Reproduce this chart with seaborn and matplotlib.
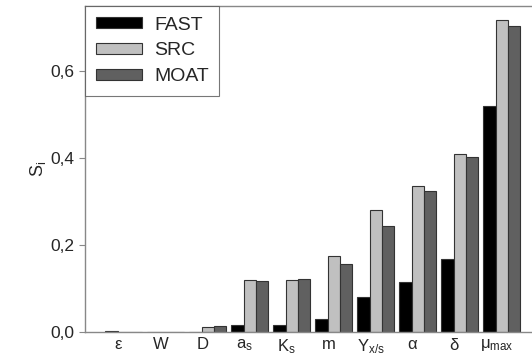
import matplotlib
matplotlib.use("Agg")
import matplotlib.pyplot as plt
import seaborn as sns
import pandas as pd
from matplotlib.ticker import FuncFormatter

categories = ["ε", "W", "D", "a_s", "K_s", "m", "Y_x/s", "α", "δ", "μ_max"]
tick_labels = [r"$\varepsilon$", "W", "D", r"a$_\mathregular{s}$", r"K$_\mathregular{s}$", "m",
               r"Y$_\mathregular{x/s}$", r"$\alpha$", r"$\delta$", r"$\mu_\mathregular{max}$"]
fast = [0.002, 0.0, 0.0, 0.015, 0.015, 0.030, 0.080, 0.114, 0.167, 0.520]
src = [0.0, 0.0, 0.012, 0.120, 0.120, 0.175, 0.281, 0.337, 0.410, 0.718]
moat = [0.0, 0.0, 0.014, 0.118, 0.123, 0.157, 0.245, 0.325, 0.403, 0.705]

df = pd.DataFrame({
    "param": categories * 3,
    "value": fast + src + moat,
    "method": ["FAST"] * 10 + ["SRC"] * 10 + ["MOAT"] * 10,
})

sns.set_style("white")
plt.rcParams["font.family"] = ["Liberation Sans", "DejaVu Sans"]
plt.rcParams["mathtext.fontset"] = "custom"
plt.rcParams["mathtext.rm"] = "Liberation Sans"
plt.rcParams["mathtext.it"] = "Liberation Sans"

fig = plt.figure(figsize=(5.32, 3.55), dpi=100)
ax = fig.add_axes([85 / 532, 23 / 355, 1 - 85 / 532 + 0.01, 326 / 355])
palette = {"FAST": "#000000", "SRC": "#c0c0c0", "MOAT": "#606060"}
sns.barplot(data=df, x="param", y="value", hue="method", palette=palette,
            order=categories, hue_order=["FAST", "SRC", "MOAT"],
            width=0.87, edgecolor="#333333", linewidth=0.8, saturation=1, ax=ax)

ax.set_ylim(0, 0.75)
ax.set_xlim(-0.92, 9.85)
ax.set_yticks([0, 0.2, 0.4, 0.6])
ax.yaxis.set_major_formatter(FuncFormatter(lambda v, p: f"{v:.1f}".replace(".", ",")))
ax.set_xticks([i - 0.12 for i in range(len(categories))])
ax.set_xticklabels(tick_labels)
ax.tick_params(axis="y", left=True, length=4, width=0.8, color="#888888", labelsize=12.5, pad=4)
ax.tick_params(axis="x", bottom=False, labelsize=12, pad=0)
ax.set_xlabel("")
ax.set_ylabel(r"S$_\mathregular{i}$", fontsize=13, labelpad=1)
for s in ["left", "top", "bottom"]:
    ax.spines[s].set_color("#888888")
    ax.spines[s].set_linewidth(1.0)
ax.spines["right"].set_visible(False)

leg = ax.legend(loc="upper left", bbox_to_anchor=(0, 1), frameon=True, fancybox=False,
                fontsize=14, handlelength=2.4, handleheight=0.5, borderpad=0.55,
                labelspacing=0.45, handletextpad=0.6, borderaxespad=0)
leg.get_frame().set_edgecolor("#555555")
leg.get_frame().set_linewidth(0.8)

fig.savefig("out.png", dpi=100)
